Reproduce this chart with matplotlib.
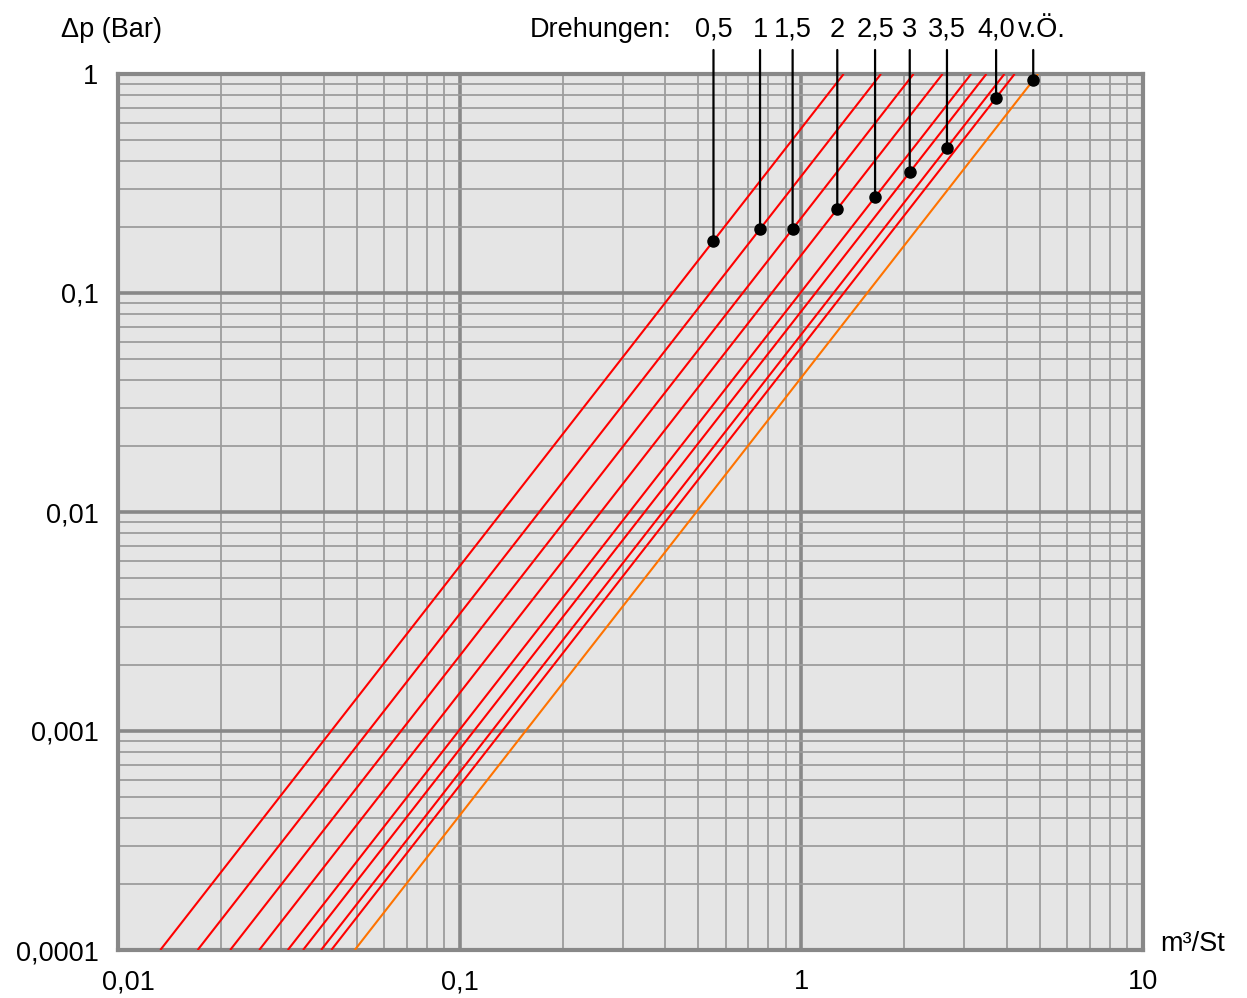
import matplotlib
matplotlib.use("Agg")
import matplotlib.pyplot as plt
import matplotlib.transforms as mtransforms
import numpy as np
from matplotlib.ticker import FixedLocator, FixedFormatter, LogLocator, NullFormatter

plt.rcParams["font.family"] = ["Liberation Sans", "DejaVu Sans"]

# turns of the valve and the flow (m³/St) where each line meets the bottom / top edge
turns = ["0,5", "1", "1,5", "2", "2,5", "3", "3,5", "4,0", "v.Ö."]
q_bottom = [0.0133, 0.0171, 0.0213, 0.0259, 0.0314, 0.0348, 0.0393, 0.0421, 0.0493]
q_top = [1.33, 1.71, 2.13, 2.59, 3.14, 3.48, 3.93, 4.21, 4.93]
dp_ends = [0.0001, 1.0]
# pressure drop (Bar) of the marker dot on each line
dp_dot = [0.173, 0.196, 0.196, 0.242, 0.274, 0.356, 0.461, 0.779, 0.937]
line_colors = ["#ff0000"] * 8 + ["#ff7300"]

x_ticks = [0.01, 0.1, 1, 10]
x_labels = ["0,01", "0,1", "1", "10"]
y_ticks = [0.0001, 0.001, 0.01, 0.1, 1]
y_labels = ["0,0001", "0,001", "0,01", "0,1", "1"]

FS = 19.5
W, H = 1247, 998
fig = plt.figure(figsize=(W / 100, H / 100), dpi=100)
ax = fig.add_axes([118 / W, 48 / H, 1025 / W, 876 / H])
ax.set_facecolor("#e5e5e5")
ax.set_xscale("log")
ax.set_yscale("log")
ax.set_xlim(0.01, 10)
ax.set_ylim(0.0001, 1)

ax.xaxis.set_major_locator(FixedLocator(x_ticks))
ax.xaxis.set_major_formatter(FixedFormatter(x_labels))
ax.yaxis.set_major_locator(FixedLocator(y_ticks))
ax.yaxis.set_major_formatter(FixedFormatter(y_labels))
for axis in (ax.xaxis, ax.yaxis):
    axis.set_minor_locator(LogLocator(base=10, subs=np.arange(2, 10)))
    axis.set_minor_formatter(NullFormatter())

ax.grid(which="minor", color="#9c9c9c", lw=1.3, zorder=0)
ax.grid(which="major", color="#888888", lw=2.6, zorder=0)
ax.set_axisbelow(True)
for sp in ax.spines.values():
    sp.set_color("#888888")
    sp.set_linewidth(3)
ax.tick_params(which="both", length=0, labelsize=FS)
ax.tick_params(axis="x", pad=14)
ax.tick_params(axis="y", pad=14)

# first x label sits a bit right of its tick, clear of "0,0001"
fig.canvas.draw()
first = ax.get_xticklabels()[0]
first.set_transform(first.get_transform()
                    + mtransforms.ScaledTranslation(0.10, 0, fig.dpi_scale_trans))

for i, lab in enumerate(turns):
    ax.plot([q_bottom[i], q_top[i]], dp_ends, color=line_colors[i], lw=1.5,
            solid_capstyle="butt", zorder=3)
    # dot sits on the line: interpolate along it in log space
    qd = 10 ** np.interp(np.log10(dp_dot[i]), np.log10(dp_ends),
                         np.log10([q_bottom[i], q_top[i]]))
    ax.plot(qd, dp_dot[i], "o", color="black", ms=8, zorder=5, clip_on=False)
    # vertical leader from the dot up to the label
    ax.annotate("", xy=(qd, dp_dot[i]), xycoords="data",
                xytext=(qd, 1.0274), textcoords=("data", "axes fraction"),
                annotation_clip=False,
                arrowprops=dict(arrowstyle="-", color="black", lw=1.6,
                                shrinkA=0, shrinkB=0))
    dx = 6.5 if lab == "v.Ö." else 0
    ax.annotate(lab, xy=(qd, 1.0425), xycoords=("data", "axes fraction"),
                xytext=(dx, 0), textcoords="offset points",
                ha="center", va="baseline", fontsize=FS, annotation_clip=False)

fig.text(61 / W, 1 - 37 / H, "Δp (Bar)", fontsize=FS, ha="left", va="baseline")
fig.text(530 / W, 1 - 37 / H, "Drehungen:", fontsize=FS, ha="left", va="baseline")
fig.text(1160 / W, 1 - 951 / H, "m³/St", fontsize=FS, ha="left", va="baseline")

fig.savefig("out.png", dpi=100)
